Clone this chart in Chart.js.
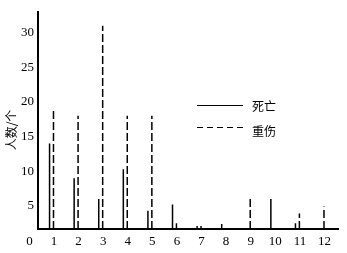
<!DOCTYPE html>
<html>
<head>
<meta charset="UTF-8">
<title>死亡/重伤 人数</title>
<script src="https://cdn.jsdelivr.net/npm/chart.js"></script>
<style>
    body { margin: 0; background: #fff; }
    #box { width: 347px; height: 253px; position: relative; }
</style>
</head>
<body>
<div id="box">
    <canvas id="myChart" width="347" height="253"></canvas>
</div>

<script>
    // data
    const months = [1, 2, 3, 4, 5, 6, 7, 8, 9, 10, 11, 12];
    const deaths = [14, 9, 6, 10.3, 4.3, 5.2, 2.1, 2.4, null, 6, 2.5, null];
    const injuries = [19, 18, 31, 18, 18, 2.5, 2.1, null, 6, null, 3.9, 4.9];
    const xTicks = [0, 1, 2, 3, 4, 5, 6, 7, 8, 9, 10, 11, 12];
    const yTicks = [5, 10, 15, 20, 25, 30];

    const Y_MIN = 1.67;
    const Y_MAX = 33;
    const DEATH_SHIFT = -0.18;
    const INJURY_SHIFT = -0.02;
    const serif = '"Liberation Serif", "DejaVu Serif", serif';
    const cjk = '"Noto Sans CJK SC", sans-serif';

    // each value becomes a vertical stem from the axis, separated by a gap
    const stems = function(values, shift) {
        const pts = [];
        values.forEach(function(v, i) {
            if (v === null) return;
            const x = months[i] + shift;
            pts.push({x: x, y: Y_MIN});
            pts.push({x: x, y: v});
            pts.push({x: x, y: null});
        });
        return pts;
    };

    const extrasPlugin = {
        id: 'extras',
        afterDraw(chart) {
            const ctx = chart.ctx;
            ctx.save();
            ctx.strokeStyle = '#000';
            ctx.fillStyle = '#000';
            ctx.lineWidth = 1.2;

            // legend
            ctx.beginPath();
            ctx.moveTo(197, 105.5);
            ctx.lineTo(243, 105.5);
            ctx.stroke();
            ctx.setLineDash([6, 4]);
            ctx.beginPath();
            ctx.moveTo(197, 127.5);
            ctx.lineTo(243, 127.5);
            ctx.stroke();
            ctx.setLineDash([]);
            ctx.font = '12px ' + cjk;
            ctx.textBaseline = 'middle';
            ctx.textAlign = 'left';
            ctx.fillText('死亡', 252, 106);
            ctx.fillText('重伤', 252, 131);

            // y axis title
            ctx.translate(11, 130);
            ctx.rotate(-Math.PI / 2);
            ctx.textAlign = 'center';
            ctx.font = '12px ' + cjk;
            ctx.fillText('人数/个', 0, 0);
            ctx.restore();
        }
    };

    const chartCanvas = document.getElementById('myChart');

    const newChart = new Chart(chartCanvas, {
        type: 'line',
        data: {
            datasets: [
                {
                    label: '死亡',
                    data: stems(deaths, DEATH_SHIFT),
                    borderColor: '#000',
                    borderWidth: 1.5,
                    pointRadius: 0,
                    spanGaps: false,
                    fill: false
                }, {
                    label: '重伤',
                    data: stems(injuries, INJURY_SHIFT),
                    borderColor: '#000',
                    borderWidth: 1.5,
                    borderDash: [8, 3],
                    pointRadius: 0,
                    spanGaps: false,
                    fill: false
                }
            ]
        },
        options: {
            responsive: false,
            animation: false,
            layout: { padding: { top: 5, right: 9, left: 0, bottom: 0 } },
            scales: {
                x: {
                    type: 'linear',
                    min: 0.35,
                    max: 12.55,
                    grid: { display: false, drawTicks: false },
                    border: { display: true, color: '#000', width: 2 },
                    afterBuildTicks: function(scale) {
                        scale.ticks = xTicks.map(v => ({value: v}));
                    },
                    afterFit: function(scale) { scale.height = 24; },
                    ticks: {
                        autoSkip: false,
                        maxRotation: 0,
                        padding: 5,
                        color: '#000',
                        font: { family: serif, size: 13 }
                    }
                },
                y: {
                    min: Y_MIN,
                    max: Y_MAX,
                    grid: { display: false, drawTicks: false },
                    border: { display: true, color: '#000', width: 2 },
                    afterBuildTicks: function(scale) {
                        scale.ticks = yTicks.map(v => ({value: v}));
                    },
                    afterFit: function(scale) { scale.width = 38; },
                    ticks: {
                        padding: 4,
                        color: '#000',
                        font: { family: serif, size: 13 }
                    }
                }
            },
            plugins: {
                legend: { display: false },
                tooltip: { enabled: false }
            }
        },
        plugins: [extrasPlugin]
    });
</script>
</body>
</html>
